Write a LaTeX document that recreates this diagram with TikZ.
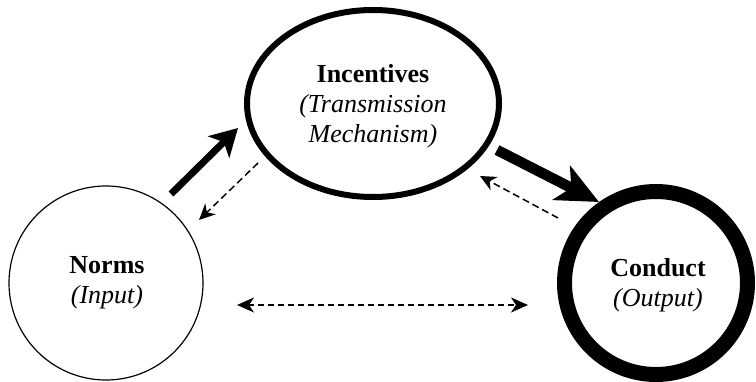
\documentclass[tikz,border=0pt]{standalone}
\usepackage{fontspec}
\setmainfont{Liberation Serif}
\usetikzlibrary{shapes.geometric,arrows.meta}
\tikzset{
  lbl/.style={font=\fontsize{26}{30}\selectfont, align=center, inner sep=0pt},
  thickarrA/.style={line width=7pt, -{Stealth[length=27pt, width=30pt, inset=7pt]}},
  thickarrB/.style={line width=10.5pt, -{Stealth[length=42pt, width=38pt, inset=11pt]}},
  dasharr/.style={line width=1.5pt, dash pattern=on 7pt off 4pt, -{Stealth[length=16pt, width=15pt, inset=5pt]}},
  dashdbl/.style={line width=1.5pt, dash pattern=on 6pt off 4pt, {Stealth[length=17pt, width=15pt, inset=5pt]}-{Stealth[length=17pt, width=15pt, inset=5pt]}}
}
\begin{document}
\begin{tikzpicture}[x=1pt,y=-1pt]
\useasboundingbox (0,0) rectangle (756,382);
\node[draw, ellipse, line width=6pt, minimum width=252pt, minimum height=187pt, inner sep=0pt] (inc) at (373,103.5) {};
\node[lbl] (inct) at (373,106) {\textbf{Incentives}\\\textit{(Transmission}\\\textit{Mechanism)}};
\node[draw, circle, line width=1.2pt, minimum size=194pt, inner sep=0pt] (norms) at (106,283) {};
\node[lbl] (normst) at (107,283) {\textbf{Norms}\\\textit{(Input)}};
\node[draw, circle, line width=15pt, minimum size=183pt, inner sep=0pt] (cond) at (656,283) {};
\node[lbl] (condt) at (658,285) {\textbf{Conduct}\\\textit{(Output)}};
\coordinate (a1s) at (171,194);
\coordinate (a1e) at (238,128);
\coordinate (d1s) at (258,163);
\coordinate (d1e) at (199,220);
\coordinate (a2s) at (497,150);
\coordinate (a2e) at (599,202);
\coordinate (d2s) at (558,218);
\coordinate (d2e) at (480,176);
\coordinate (d3s) at (237,305);
\coordinate (d3e) at (528,305);
\draw[thickarrA] (a1s) -- (a1e);
\draw[dasharr] (d1s) -- (d1e);
\draw[thickarrB] (a2s) -- (a2e);
\draw[dasharr] (d2s) -- (d2e);
\draw[dashdbl] (d3s) -- (d3e);
\end{tikzpicture}
\end{document}
